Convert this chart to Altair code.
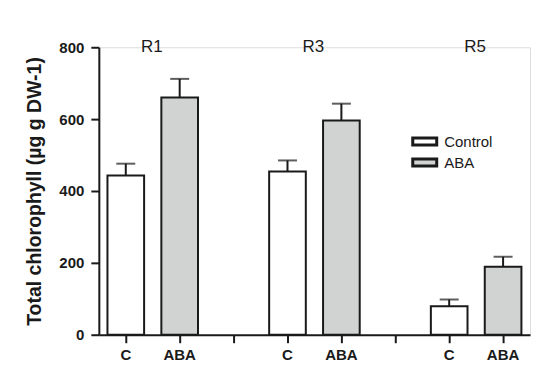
import altair as alt
import pandas as pd

stages = ["R1", "R3", "R5"]
treatments = ["Control", "ABA"]
tick_labels = ["C", "ABA"]
control_mean = [443, 454, 79]
control_err = [33, 31, 19]
aba_mean = [660, 596, 189]
aba_err = [52, 47, 28]

rows = []
keys = []
for i, s in enumerate(stages):
    for t, lab, m, e in [("Control", tick_labels[0], control_mean[i], control_err[i]),
                         ("ABA", tick_labels[1], aba_mean[i], aba_err[i])]:
        k = f"{s}_{lab}"
        keys.append(k)
        rows.append({"key": k, "stage": s, "treatment": t, "mean": m, "upper": m + e})
    if i < len(stages) - 1:
        keys.append(f"gap{i}")
df = pd.DataFrame(rows)
stage_df = pd.DataFrame({"stage": stages, "key": [f"{s}_C" for s in stages]})

FONT = "Liberation Sans"
INK = "#1a1a1a"

xscale = alt.Scale(domain=keys, paddingInner=0.32, paddingOuter=0.16)
yscale = alt.Scale(domain=[0, 800])

xaxis = alt.Axis(
    title=None, labelAngle=0,
    labelExpr="indexof(datum.value, 'gap') >= 0 ? '' : split(datum.value, '_')[1]",
    labelFont=FONT, labelFontSize=15, labelFontWeight="bold", labelColor=INK,
    tickSize=8, tickWidth=2, tickColor=INK, domainWidth=2, domainColor=INK,
    labelPadding=5, grid=False,
)
yaxis = alt.Axis(
    title="Total chlorophyll (µg g DW-1)", values=[0, 200, 400, 600, 800],
    titleFont=FONT, titleFontSize=19.5, titleFontWeight="bold", titleColor=INK,
    titleAngle=-90, titleX=-64, titleY=144, titleAlign="center", titleBaseline="middle",
    labelFont=FONT, labelFontSize=15, labelFontWeight="bold", labelColor=INK,
    tickSize=8, tickWidth=2, tickColor=INK, domainWidth=2, domainColor=INK,
    labelPadding=7, grid=False,
)

base = alt.Chart(df)

bars = base.mark_bar(stroke=INK, strokeWidth=2).encode(
    x=alt.X("key:N", scale=xscale, axis=xaxis, sort=keys),
    y=alt.Y("mean:Q", scale=yscale, axis=yaxis),
    fill=alt.Fill(
        "treatment:N",
        scale=alt.Scale(domain=treatments, range=["white", "#d1d3d2"]),
        legend=alt.Legend(
            title=None, orient="none", legendX=315, legendY=83,
            symbolType="M-1.2,-0.35H1.2V0.35H-1.2Z", symbolSize=400,
            symbolStrokeColor=INK, symbolStrokeWidth=3,
            labelFont=FONT, labelFontSize=15, labelColor=INK, labelOffset=8,
            rowPadding=0, padding=0,
        ),
    ),
)

err = base.mark_rule(color=INK, strokeWidth=2).encode(
    x=alt.X("key:N", scale=xscale, sort=keys),
    y="mean:Q",
    y2="upper:Q",
)

caps = base.mark_tick(color=INK, size=19, thickness=2, orient="horizontal").encode(
    x=alt.X("key:N", scale=xscale, sort=keys),
    y=alt.Y("upper:Q", scale=yscale),
)

stage_text = alt.Chart(stage_df).mark_text(
    font=FONT, fontSize=17, color=INK, dx=26, baseline="middle"
).encode(
    x=alt.X("key:N", scale=xscale, sort=keys),
    y=alt.value(0),
    text="stage:N",
)

chart = alt.layer(bars, err, caps, stage_text).properties(
    width=432, height=288,
    autosize=alt.AutoSizeParams(type="none"),
    padding={"left": 91, "top": 39, "right": 20, "bottom": 30},
).configure_view(stroke=None).configure(background="white")

chart.save("out.html", embed_options={"renderer": "svg", "actions": False})
